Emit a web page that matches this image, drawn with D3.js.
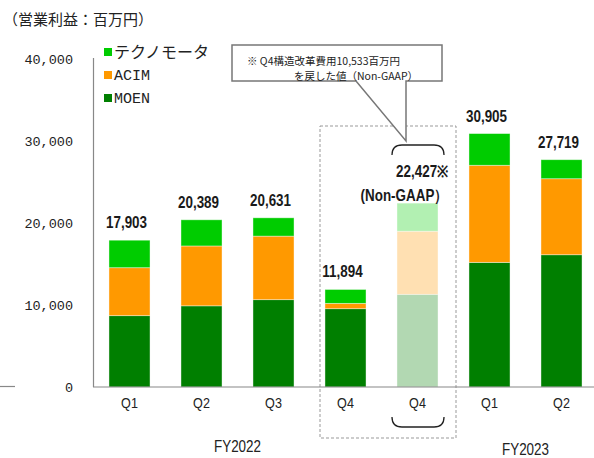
<!DOCTYPE html>
<html>
<head>
<meta charset="utf-8">
<script src="https://cdn.jsdelivr.net/npm/d3@7"></script>
<style>
  body { margin: 0; background: #fff; }
  svg { display: block; }
  .tick-lbl { font-family: "Liberation Mono", "DejaVu Sans Mono", monospace; font-size: 13.5px; fill: #222; }
  .cat { font-family: "Liberation Sans", sans-serif; font-size: 15px; fill: #222; }
  .tot { font-family: "Liberation Sans", sans-serif; font-size: 16px; font-weight: bold; fill: #1a1a1a; }
  .jp { font-family: "Noto Sans CJK JP", sans-serif; fill: #222; }
</style>
</head>
<body>
<div id="chart"></div>
<script>
// data
var categories = ["FY22Q1", "FY22Q2", "FY22Q3", "FY22Q4", "FY22Q4NG", "FY23Q1", "FY23Q2"];
var qLabels = ["Q1", "Q2", "Q3", "Q4", "Q4", "Q1", "Q2"];
var moen  = [8700, 9900, 10650, 9550, 11300, 15200, 16130];
var acim  = [5850, 7300, 7750, 650, 7700, 11840, 9270];
var tecno = [3353, 3189, 2231, 1694, 3427, 3865, 2319];
var totals = ["17,903", "20,389", "20,631", "11,894", "22,427※", "30,905", "27,719"];
var seriesNames = ["テクノモータ", "ACIM", "MOEN"];
var yTicks = [0, 10000, 20000, 30000, 40000];
var years = [{ name: "FY2022", from: "FY22Q1", to: "FY22Q4" }, { name: "FY2023", from: "FY23Q1", to: "FY23Q2" }];
var nonGaap = "FY22Q4NG";
var noteLines = ["※ Q4構造改革費用10,533百万円", "を戻した値（Non-GAAP）"];

var width = 594, height = 458;
var colors = { "MOEN": "#007f00", "ACIM": "#ff9900", "テクノモータ": "#00cc00" };
var narrow = 0.84; // condensed look of the original labels

var svg = d3.select("#chart").append("svg")
    .attr("width", width).attr("height", height);

var x = d3.scaleBand().domain(categories).range([93.5, 597.5])
    .paddingInner(0.43).paddingOuter(0.215);
var y = d3.scaleLinear().domain([0, 40000]).range([387, 59]);

var rows = categories.map(function (c, i) {
  return { cat: c, MOEN: moen[i], ACIM: acim[i], "テクノモータ": tecno[i] };
});
var stack = d3.stack().keys(["MOEN", "ACIM", "テクノモータ"])(rows);

function narrowText(cls, px, py, anchor, txt) {
  return svg.append("text").attr("class", cls)
      .attr("transform", "translate(" + px + "," + py + ") scale(" + narrow + ",1)")
      .attr("text-anchor", anchor)
      .text(txt);
}

// title
svg.append("text").attr("class", "jp")
    .attr("x", 3).attr("y", 25)
    .style("font-size", "15px")
    .text("（営業利益：百万円）");

// dashed box around Q4 pair
svg.append("rect")
    .attr("x", 320).attr("y", 126).attr("width", 136).attr("height", 312)
    .attr("fill", "none").attr("stroke", "#999").attr("stroke-width", 1)
    .attr("stroke-dasharray", "3,2");

// bars
stack.forEach(function (s) {
  svg.append("g").selectAll("rect")
    .data(s)
    .enter().append("rect")
      .attr("x", function (d) { return x(d.data.cat); })
      .attr("y", function (d) { return y(d[1]); })
      .attr("width", x.bandwidth())
      .attr("height", function (d) { return y(d[0]) - y(d[1]); })
      .attr("fill", colors[s.key])
      .attr("fill-opacity", function (d) { return d.data.cat === nonGaap ? 0.3 : 1; })
      .attr("stroke", "#fff").attr("stroke-opacity", 0.5).attr("stroke-width", 0.8);
});

// axes
svg.append("line").attr("x1", 93.5).attr("x2", 93.5).attr("y1", 58).attr("y2", 387)
    .attr("stroke", "#888").attr("stroke-width", 1.2);
svg.append("line").attr("x1", 93).attr("x2", 594).attr("y1", 387).attr("y2", 387)
    .attr("stroke", "#888").attr("stroke-width", 1.2);
svg.append("line").attr("x1", 0).attr("x2", 15).attr("y1", 386.5).attr("y2", 386.5)
    .attr("stroke", "#888").attr("stroke-width", 1.2);

svg.selectAll(".tick-lbl")
  .data(yTicks)
  .enter().append("text")
    .attr("class", "tick-lbl")
    .attr("x", 73)
    .attr("y", function (d) { return y(d); })
    .attr("dy", "0.35em")
    .attr("text-anchor", "end")
    .text(function (d) { return d3.format(",")(d); });

// category labels
categories.forEach(function (c, i) {
  narrowText("cat", x(c) + x.bandwidth() / 2, 408, "middle", qLabels[i]);
});

years.forEach(function (yr, i) {
  var cx = (x(yr.from) + x(yr.to) + x.bandwidth()) / 2;
  narrowText("cat", cx, 452 + i * 3, "middle", yr.name).style("font-size", "16px");
});

// total labels
categories.forEach(function (c, i) {
  var top = y(moen[i] + acim[i] + tecno[i]);
  var cx = x(c) + x.bandwidth() / 2;
  if (c === nonGaap) {
    var right = x(c) + x.bandwidth() + 10;
    narrowText("tot", right, top - 26, "end", totals[i]);
    narrowText("tot", right, top - 2, "end", "(Non-GAAP）");
  } else {
    narrowText("tot", cx - 3, top - 12, "middle", totals[i]);
  }
});

// braces
var bx0 = x(nonGaap) - 5, bx1 = x(nonGaap) + x.bandwidth() + 6;
svg.append("path")
    .attr("d", "M" + bx0 + ",155 Q" + bx0 + ",145 " + (bx0 + 10) + ",145 L" + (bx1 - 10) + ",145 Q" + bx1 + ",145 " + bx1 + ",155")
    .attr("fill", "none").attr("stroke", "#222").attr("stroke-width", 1.3);
svg.append("path")
    .attr("d", "M" + bx0 + ",417 Q" + bx0 + ",427 " + (bx0 + 10) + ",427 L" + (bx1 - 10) + ",427 Q" + bx1 + ",427 " + bx1 + ",417")
    .attr("fill", "none").attr("stroke", "#222").attr("stroke-width", 1.3);

// callout
svg.append("path")
    .attr("d", "M232,45 L442,45 L442,81 L406,81 L406,141 L356,81 L232,81 Z")
    .attr("fill", "#fff").attr("stroke", "#777").attr("stroke-width", 1.5);
svg.append("text").attr("class", "jp").style("font-size", "10.5px")
    .attr("x", 247).attr("y", 64.5).text(noteLines[0]);
svg.append("text").attr("class", "jp").style("font-size", "10.5px")
    .attr("x", 294).attr("y", 79.5).text(noteLines[1]);

// legend
seriesNames.forEach(function (n, i) {
  var ly = 52 + i * 23;
  svg.append("rect").attr("x", 104).attr("y", ly - 4).attr("width", 8).attr("height", 8)
      .attr("fill", colors[n]);
  svg.append("text")
      .attr("class", i === 0 ? "jp" : "tick-lbl")
      .attr("x", 114).attr("y", ly).attr("dy", "0.36em")
      .style("font-size", i === 0 ? "16px" : "15px")
      .text(n);
});
</script>
</body>
</html>
